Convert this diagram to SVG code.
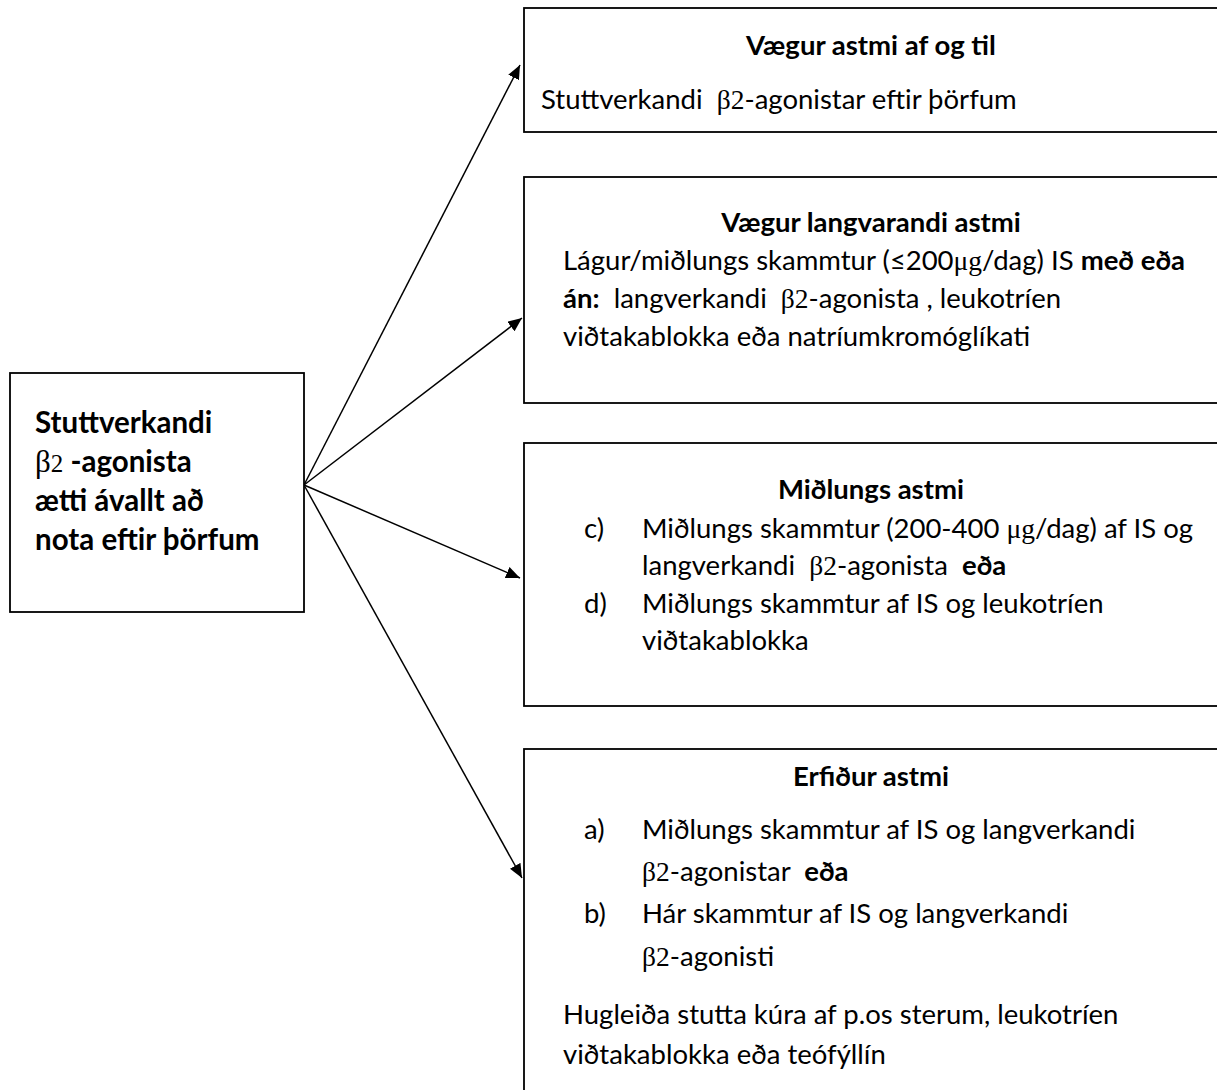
<svg xmlns="http://www.w3.org/2000/svg" width="1217" height="1090" viewBox="0 0 1217 1090">
<defs>
<marker id="ah" viewBox="0 0 14 12" refX="14" refY="6" markerWidth="14" markerHeight="12" markerUnits="userSpaceOnUse" orient="auto">
<path d="M0,0 L14,6 L0,12 z" fill="#000"/>
</marker>
<style>
.box{fill:#fff;stroke:#000;stroke-width:1.8}
.t{font-family:Lato,"Liberation Sans",sans-serif;font-size:27.5px;fill:#000}
.h{font-size:29.5px}
.b{font-weight:bold}
.s{font-family:"Liberation Serif",serif;font-weight:normal}
.c{stroke:#000;stroke-width:1.5;fill:none}
</style>
</defs>
<rect width="1217" height="1090" fill="#fff"/>
<g id="connectors">
<line class="c" x1="304" y1="485" x2="520" y2="65" marker-end="url(#ah)"/>
<line class="c" x1="304" y1="485" x2="522" y2="318" marker-end="url(#ah)"/>
<line class="c" x1="304" y1="485" x2="520" y2="578" marker-end="url(#ah)"/>
<line class="c" x1="304" y1="485" x2="522" y2="878" marker-end="url(#ah)"/>
</g>
<g id="start">
<rect class="box" x="10" y="373" width="294" height="239"/>
<text class="t h b" x="35" y="433">Stuttverkandi</text>
<text class="t h b" x="35" y="472"><tspan class="s" font-size="31">β</tspan><tspan class="s" font-size="25">2</tspan> -agonista</text>
<text class="t h b" x="35" y="511">ætti ávallt að</text>
<text class="t h b" x="35" y="550">nota eftir þörfum</text>
</g>
<g id="mild-intermittent">
<rect class="box" x="524" y="8" width="720" height="124"/>
<text class="t b" x="871" y="55" text-anchor="middle">Vægur astmi af og til</text>
<text class="t" x="541" y="109" xml:space="preserve">Stuttverkandi  <tspan class="s">β2</tspan>-agonistar eftir þörfum</text>
</g>
<g id="mild-persistent">
<rect class="box" x="524" y="177" width="720" height="226"/>
<text class="t b" x="871" y="232" text-anchor="middle">Vægur langvarandi astmi</text>
<text class="t" x="563" y="270">Lágur/miðlungs skammtur (≤200<tspan class="s">μg</tspan>/dag) IS <tspan class="b">með eða</tspan></text>
<text class="t" x="563" y="308" xml:space="preserve"><tspan class="b">án:</tspan>  langverkandi  <tspan class="s">β2</tspan>-agonista , leukotríen</text>
<text class="t" x="563" y="346">viðtakablokka eða natríumkromóglíkati</text>
</g>
<g id="moderate">
<rect class="box" x="524" y="443" width="720" height="263"/>
<text class="t b" x="871" y="499" text-anchor="middle">Miðlungs astmi</text>
<text class="t" x="584" y="538">c)</text>
<text class="t" x="642" y="538">Miðlungs skammtur (200-400 <tspan class="s">μg</tspan>/dag) af IS og</text>
<text class="t" x="642" y="575" xml:space="preserve">langverkandi  <tspan class="s">β2</tspan>-agonista  <tspan class="b">eða</tspan></text>
<text class="t" x="584" y="613">d)</text>
<text class="t" x="642" y="613">Miðlungs skammtur af IS og leukotríen</text>
<text class="t" x="642" y="650">viðtakablokka</text>
</g>
<g id="severe">
<rect class="box" x="524" y="749" width="720" height="400"/>
<text class="t b" x="871" y="786" text-anchor="middle">Erfiður astmi</text>
<text class="t" x="584" y="839">a)</text>
<text class="t" x="642" y="839">Miðlungs skammtur af IS og langverkandi</text>
<text class="t" x="642" y="881" xml:space="preserve"><tspan class="s">β2</tspan>-agonistar  <tspan class="b">eða</tspan></text>
<text class="t" x="584" y="923">b)</text>
<text class="t" x="642" y="923">Hár skammtur af IS og langverkandi</text>
<text class="t" x="642" y="966"><tspan class="s">β2</tspan>-agonisti</text>
<text class="t" x="563" y="1024">Hugleiða stutta kúra af p.os sterum, leukotríen</text>
<text class="t" x="563" y="1064">viðtakablokka eða teófýllín</text>
</g>
</svg>
